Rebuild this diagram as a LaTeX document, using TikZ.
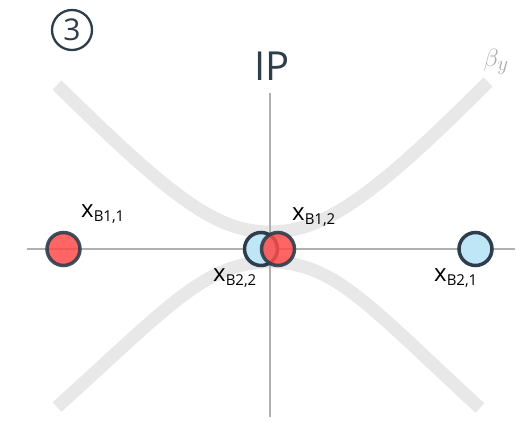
\documentclass[tikz,border=0pt]{standalone}
\usepackage{fontspec}
\setmainfont{Open Sans}
\definecolor{ink}{HTML}{2E3D4B}
\definecolor{redf}{HTML}{FF4A4A}
\definecolor{bluef}{HTML}{BEE6F7}
\definecolor{curvegray}{HTML}{E8E8E8}
\definecolor{axisgray}{HTML}{B0B0B0}
\definecolor{betagray}{HTML}{A8A8A8}
\tikzset{
  curveline/.style={draw=curvegray, line width=13pt},
  axisline/.style={draw=axisgray, line width=2pt},
  bunch/.style={circle, draw=ink, line width=3.5pt, minimum size=33pt, inner sep=0pt},
  redbunch/.style={bunch, fill=redf, fill opacity=0.85, draw opacity=0.9},
  bluebunch/.style={bunch, fill=bluef},
  lab/.style={text=black, inner sep=0pt, font=\fontsize{24}{24}\selectfont},
}
\newcommand{\xlab}[1]{x\textsubscript{\fontsize{15}{15}\selectfont #1}}
\begin{document}
\begin{tikzpicture}[x=1pt,y=-1pt]
\useasboundingbox (0,0) rectangle (517,422);
% envelope curves
\coordinate (ul) at (57,85);
\coordinate (ur) at (488,82);
\coordinate (ll) at (57,407);
\coordinate (lr) at (480,408);
\draw[curveline] (ul) .. controls (170,196) and (215,232) .. (270,232)
                      .. controls (325,232) and (376,194) .. (ur);
\draw[curveline] (ll) .. controls (167,308) and (205,262) .. (270,262)
                      .. controls (335,262) and (371,308) .. (lr);
% axes
\coordinate (hl) at (27,249);
\coordinate (hr) at (515,249);
\coordinate (vt) at (270,93);
\coordinate (vb) at (270,417);
\draw[axisline] (hl) -- (hr);
\draw[axisline] (vt) -- (vb);
% bunches
\node[redbunch] (b11) at (63.5,249) {};
\node[bluebunch] (b21) at (475.5,249) {};
\node[bluebunch] (b22) at (261,249) {};
\node[redbunch] (b12) at (278,249) {};
% labels
\node[lab] (l11) at (103,214) {\xlab{B1,1}};
\node[lab] (l12) at (314,217) {\xlab{B1,2}};
\node[lab] (l22) at (235,278) {\xlab{B2,2}};
\node[lab] (l21) at (456,278) {\xlab{B2,1}};
% title texts
\node[text=ink, inner sep=0pt, font=\fontsize{40}{40}\selectfont] (ip) at (272,66) {IP};
\node[text=betagray, inner sep=0pt, font=\fontsize{28}{28}\selectfont] (beta) at (496,62) {$\beta_y$};
\node[circle, draw=ink, line width=2.3pt, minimum size=40pt, inner sep=0pt, text=ink, font=\fontsize{30}{30}\selectfont] (num) at (72,30) {3};
\end{tikzpicture}
\end{document}
